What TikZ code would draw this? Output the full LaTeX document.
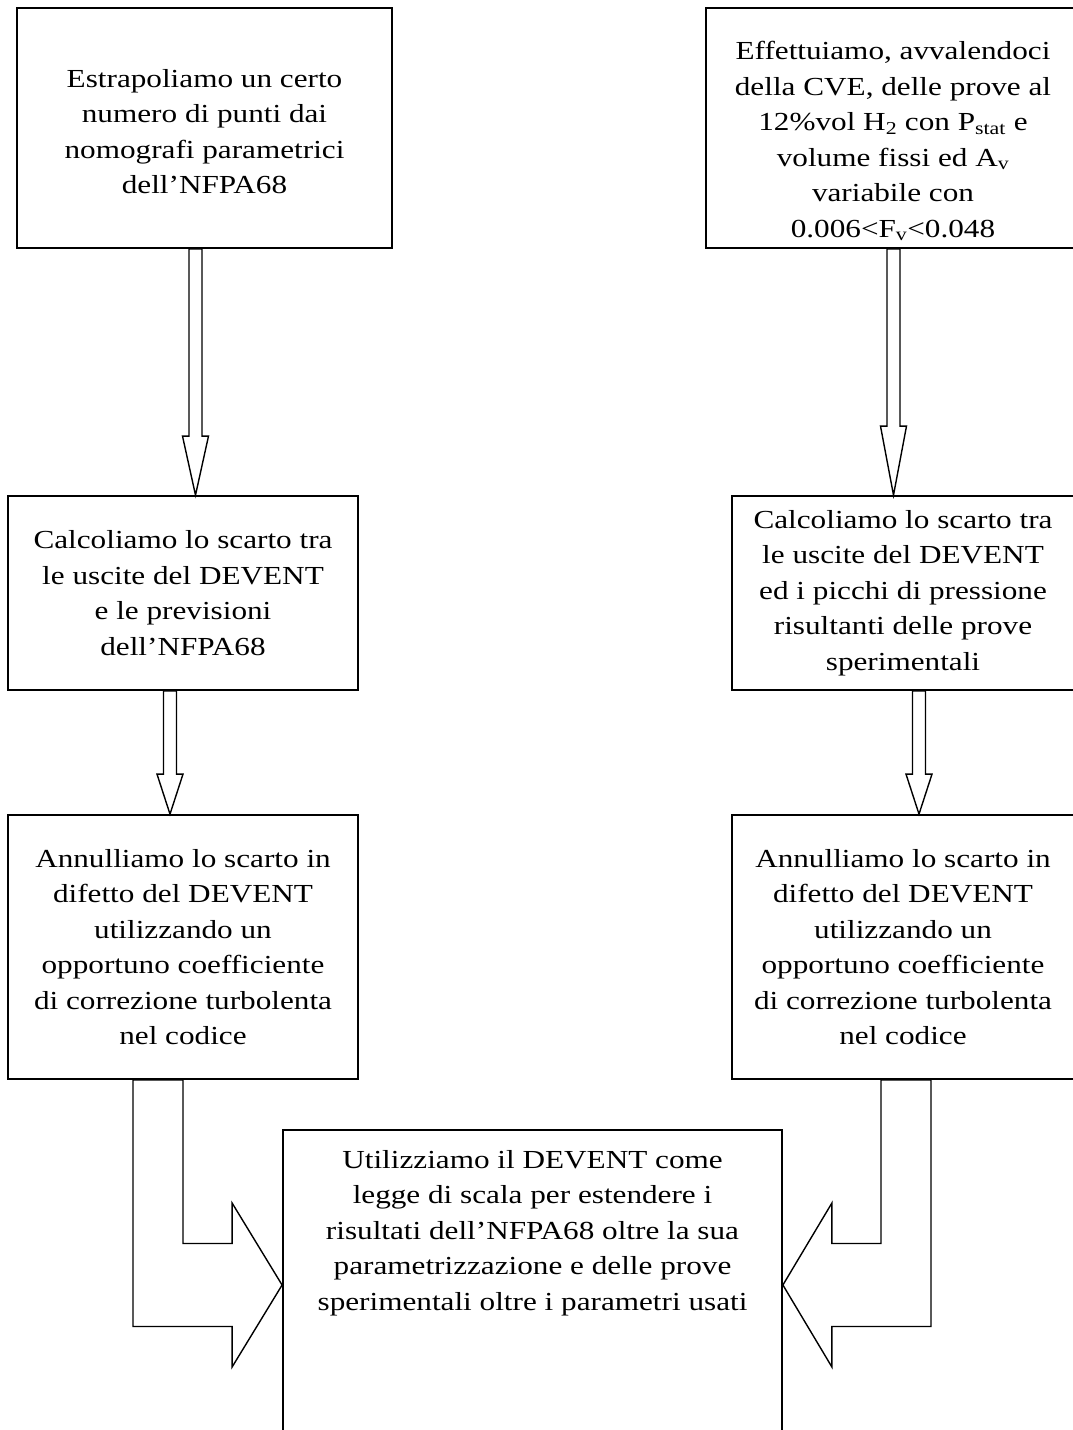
\documentclass[tikz,border=0pt]{standalone}
\usepackage{fontspec}
\setmainfont{Liberation Serif}[FakeStretch=1.2]
\usetikzlibrary{calc}
\tikzset{
  box/.style={draw, line width=1.8pt, inner sep=0pt, align=center,
    font=\fontsize{26}{35.5}\selectfont},
  txt/.style={inner sep=0pt, align=center, font=\fontsize{26}{35.5}\selectfont},
  barrow/.style={draw, line width=1.4pt, line join=miter, fill=white},
}
\begin{document}
\begin{tikzpicture}[x=1pt,y=-1pt]
\useasboundingbox (0,0) rectangle (1072,1430);
% boxes
\node[box, minimum width=375, minimum height=240] (A) at (204.5,128) {};
\node[txt, anchor=north] (At) at ($(A.north)+(0,62)$)
  {Estrapoliamo un certo\\numero di punti dai\\nomografi parametrici\\dell’NFPA68};
\node[box, minimum width=368, minimum height=240] (B) at (890,128) {};
\node[txt, anchor=north] (Bt) at ($(B.north)+(3,34)$)
  {Effettuiamo, avvalendoci\\della CVE, delle prove al\\12\%vol H\textsubscript{2} con P\textsubscript{stat} e\\volume fissi ed A\textsubscript{v}\\variabile con\\0.006<F\textsubscript{v}<0.048};
\node[box, minimum width=350, minimum height=194] (C) at (183,593)
  {Calcoliamo lo scarto tra\\le uscite del DEVENT\\e le previsioni\\dell’NFPA68};
\node[box, minimum width=342, minimum height=194] (D) at (903,593)
  {Calcoliamo lo scarto tra\\le uscite del DEVENT\\ed i picchi di pressione\\risultanti delle prove\\sperimentali};
\node[box, minimum width=350, minimum height=264] (E) at (183,947)
  {Annulliamo lo scarto in\\difetto del DEVENT\\utilizzando un\\opportuno coefficiente\\di correzione turbolenta\\nel codice};
\node[box, minimum width=342, minimum height=264] (F) at (903,947)
  {Annulliamo lo scarto in\\difetto del DEVENT\\utilizzando un\\opportuno coefficiente\\di correzione turbolenta\\nel codice};
\node[box, minimum width=499, minimum height=310] (G) at (532.5,1285) {};
\node[txt, anchor=north] (Gt) at ($(G.north)+(0,21)$)
  {Utilizziamo il DEVENT come\\legge di scala per estendere i\\risultati dell’NFPA68 oltre la sua\\parametrizzazione e delle prove\\sperimentali oltre i parametri usati};
% straight block arrows
\coordinate (a1) at ($(A.south)+(-9,0)$);
\coordinate (a1t) at (a1 |- C.north);
\draw[barrow] ($(a1)+(-6.5,0)$) -- ($(a1t)+(-6.5,-59)$) -- ($(a1t)+(-13,-59)$) -- (a1t)
  -- ($(a1t)+(13,-59)$) -- ($(a1t)+(6.5,-59)$) -- ($(a1)+(6.5,0)$) -- cycle;
\coordinate (a2) at ($(B.south)+(3.5,0)$);
\coordinate (a2t) at (a2 |- D.north);
\draw[barrow] ($(a2)+(-6.5,0)$) -- ($(a2t)+(-6.5,-69)$) -- ($(a2t)+(-13,-69)$) -- (a2t)
  -- ($(a2t)+(13,-69)$) -- ($(a2t)+(6.5,-69)$) -- ($(a2)+(6.5,0)$) -- cycle;
\coordinate (a3) at ($(C.south)+(-13,0)$);
\coordinate (a3t) at (a3 |- E.north);
\draw[barrow] ($(a3)+(-6.5,0)$) -- ($(a3t)+(-6.5,-40)$) -- ($(a3t)+(-13,-40)$) -- (a3t)
  -- ($(a3t)+(13,-40)$) -- ($(a3t)+(6.5,-40)$) -- ($(a3)+(6.5,0)$) -- cycle;
\coordinate (a4) at ($(D.south)+(16,0)$);
\coordinate (a4t) at (a4 |- F.north);
\draw[barrow] ($(a4)+(-6.5,0)$) -- ($(a4t)+(-6.5,-40)$) -- ($(a4t)+(-13,-40)$) -- (a4t)
  -- ($(a4t)+(13,-40)$) -- ($(a4t)+(6.5,-40)$) -- ($(a4)+(6.5,0)$) -- cycle;
% bent block arrows
\coordinate (Ls) at ($(E.south)+(-25,0)$);
\coordinate (Lt) at (G.west);
\draw[barrow] ($(Ls)+(-25,0)$) -- ($(Ls)+(25,0)$) -- ($(Ls |- Lt)+(25,-41.5)$)
  -- ($(Lt)+(-50,-41.5)$) -- ($(Lt)+(-50,-82)$) -- (Lt) -- ($(Lt)+(-50,82)$)
  -- ($(Lt)+(-50,41.5)$) -- ($(Ls |- Lt)+(-25,41.5)$) -- cycle;
\coordinate (Rs) at ($(F.south)+(3,0)$);
\coordinate (Rt) at (G.east);
\draw[barrow] ($(Rs)+(-25,0)$) -- ($(Rs)+(25,0)$) -- ($(Rs |- Rt)+(25,41.5)$)
  -- ($(Rt)+(49,41.5)$) -- ($(Rt)+(49,82)$) -- (Rt) -- ($(Rt)+(49,-82)$)
  -- ($(Rt)+(49,-41.5)$) -- ($(Rs |- Rt)+(-25,-41.5)$) -- cycle;
\end{tikzpicture}
\end{document}
